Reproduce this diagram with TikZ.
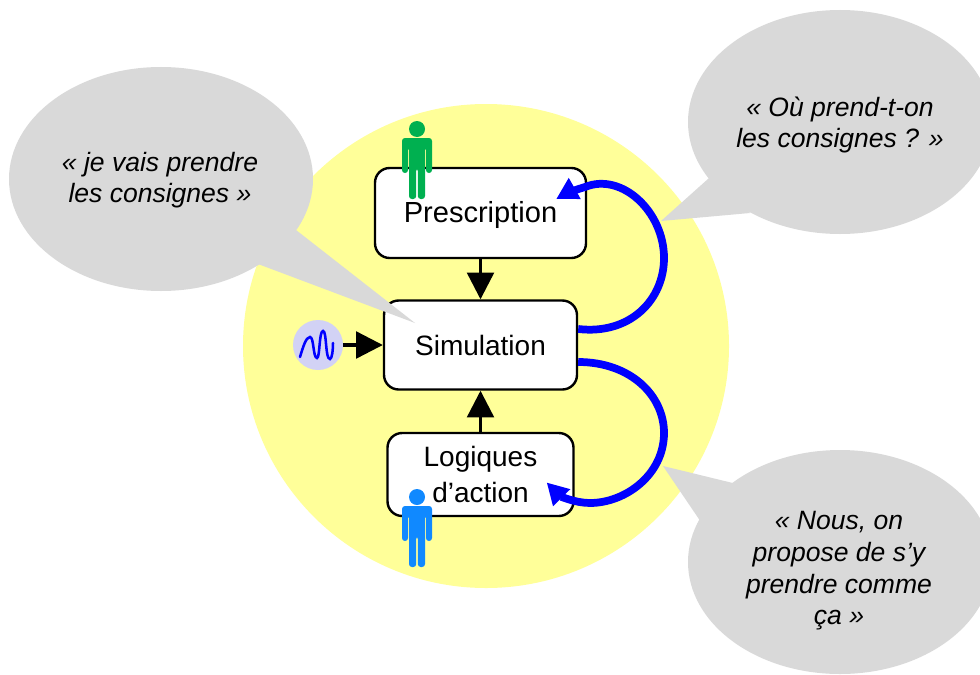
\documentclass[tikz,border=0pt]{standalone}
\usepackage{fontspec}
\setmainfont{Liberation Sans}
\usetikzlibrary{arrows.meta,shapes.geometric,calc}
\definecolor{sunny}{HTML}{FFFF99}
\definecolor{bubble}{HTML}{D9D9D9}
\definecolor{pgreen}{HTML}{00B050}
\definecolor{pblue}{HTML}{1089FF}
\definecolor{wavebg}{HTML}{D2D2F5}
\tikzset{
  px/.style={x=0.75pt,y=-0.75pt},
  boxn/.style={draw=black,line width=1.8pt,fill=white,rounded corners=11pt,align=center,inner sep=0pt,
    font=\fontsize{21}{27}\selectfont},
  bubblen/.style={ellipse,fill=bubble,inner sep=0pt,minimum width=228pt,minimum height=168pt},
  saytext/.style={align=center,inner sep=0pt,font=\fontsize{19.9}{23.7}\selectfont\itshape},
  blackarrow/.style={draw=black,line width=2.4pt,-{Triangle[length=20pt,width=20pt]}},
  bluearrow/.style={draw=blue,line width=5.8pt,-{Triangle[length=16pt,width=17pt]}},
}
\newcommand{\personfig}[3]{% x centre, y of head centre, colour
  \begin{scope}[shift={(#1,#2)}]
    \fill[#3] (0,0) circle (8);
    \fill[#3,rounded corners=2.2pt] (-15,9) -- (15,9) -- (15,44) -- (9,44) -- (9,18) -- (8,18) -- (8,70) -- (0.8,70) -- (0.8,39) -- (-0.8,39) -- (-0.8,70) -- (-8,70) -- (-8,18) -- (-9,18) -- (-9,44) -- (-15,44) -- cycle;
  \end{scope}}
\begin{document}
\begin{tikzpicture}[px]
\path[use as bounding box,clip] (0,0) rectangle (980,674);
\fill[white] (0,0) rectangle (980,674);
\fill[sunny] (486,346) ellipse [x radius=243,y radius=242];

% right bubbles
\node[bubblen] (b2) at (840,122) {};
\fill[bubble] (718,170) -- (661,221) -- (750,213) -- cycle;
\node[saytext] (t2) at (840,125) {« Où prend-t-on\\les consignes ? »};
\node[bubblen] (b3) at (840,562) {};
\fill[bubble] (663,466) -- (745,486) -- (705,528) -- cycle;
\node[saytext] (t3) at (839,571) {« Nous, on\\propose de s’y\\prendre comme\\ça »};

% boxes
\node[boxn,minimum width=158.25pt,minimum height=67.5pt] (pres) at (480.5,213) {\fontsize{21.8}{27}\selectfont\rule{0pt}{19pt}Prescription};
\node[boxn,minimum width=144.75pt,minimum height=66.75pt] (simu) at (480.5,345) {Simulation};
\node[boxn,minimum width=139.5pt,minimum height=62.25pt] (logi) at (480.5,474.5) {Logiques\\d’action};

% left bubble
\node[bubblen] (b1) at (161,179) {};
\fill[bubble] (296,230) -- (415,323) -- (258,264) -- cycle;
\node[saytext] (t1) at (160,180) {« je vais prendre\\les consignes »};

% signal
\node[circle,fill=wavebg,minimum size=37.5pt,inner sep=0pt] (sig) at (318,345) {};
\draw[blue,line width=1.9pt,line cap=round] (300,357) .. controls (303,347) and (306,337) .. (310,337)
  .. controls (314,337) and (313,358) .. (317,358)
  .. controls (320,358) and (319,331) .. (323,331)
  .. controls (327,331) and (325,359) .. (330,359)
  .. controls (332,359) and (333,350) .. (333,343);

% black arrows
\draw[blackarrow] (sig.east) -- (simu.west);
\draw[blackarrow] (pres.south) -- (simu.north);
\draw[blackarrow] (logi.north) -- (simu.south);

% blue arrows
\draw[bluearrow] ($(simu.east)+(0,-16)$) .. controls (630,335) and (664,300) .. (664,258)
  .. controls (664,212) and (622,172) .. (585,187) .. controls (575,190) and (565,194) .. ($(pres.east)+(-31,-14)$);
\draw[bluearrow] ($(simu.east)+(0,17)$) .. controls (630,362) and (664,395) .. (664,433)
  .. controls (664,475) and (625,503) .. (590,503) .. controls (575,503) and (560,496) .. ($(logi.east)+(-28,8)$);

% people
\personfig{417}{129}{pgreen}
\personfig{417}{497}{pblue}
\end{tikzpicture}
\end{document}
